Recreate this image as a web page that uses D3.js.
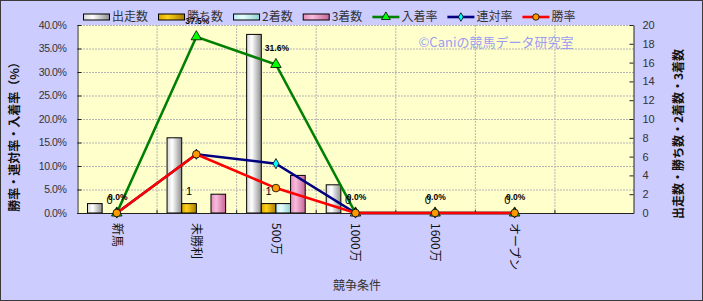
<!DOCTYPE html>
<html>
<head>
<meta charset="utf-8">
<script src="https://cdn.jsdelivr.net/npm/d3@7"></script>
<style>
  body { margin: 0; background: #fff; }
  svg { display: block; font-family: "Noto Sans CJK JP", "Liberation Sans", sans-serif; }
</style>
</head>
<body>
<div id="chart"></div>
<script>
// 競争条件別の成績（棒=頭数, 折れ線=率）

const categories = ["新馬", "未勝利", "500万", "1000万", "1600万", "オープン", ""];
const starts = [1, 8, 19, 3, 0, 0];       // 出走数
const wins = [0, 1, 1, 0, 0, 0];          // 勝ち数
const seconds = [0, 0, 1, 0, 0, 0];       // 2着数
const thirds = [0, 2, 4, 0, 0, 0];        // 3着数
const placeRate = [0, 37.5, 31.6, 0, 0, 0];   // 入着率 (%)
const quinellaRate = [0, 12.5, 10.5, 0, 0, 0]; // 連対率 (%)
const winRate = [0, 12.5, 5.3, 0, 0, 0];      // 勝率 (%)
const leftTicks = [0, 5, 10, 15, 20, 25, 30, 35, 40];
const rightTicks = [0, 2, 4, 6, 8, 10, 12, 14, 16, 18, 20];

const W = 703, H = 301;
const plot = { left: 77, right: 634, top: 25, bottom: 213 };

const svg = d3.select("#chart").append("svg")
    .attr("width", W).attr("height", H);

// background + border
svg.append("rect")
    .attr("x", 0.5).attr("y", 0.5)
    .attr("width", W - 1).attr("height", H - 1)
    .attr("fill", "#ccccff")
    .attr("stroke", "#3a3a3a");

svg.append("rect")
    .attr("x", plot.left).attr("y", plot.top)
    .attr("width", plot.right - plot.left).attr("height", plot.bottom - plot.top)
    .attr("fill", "#ffffcc");

// gradients for the cylinder look
const defs = svg.append("defs");
const barStyles = [
    { name: "出走数", id: "gWhite", stops: ["#d6d6d6", "#ffffff", "#8e8e8e"] },
    { name: "勝ち数", id: "gGold", stops: ["#d9a400", "#ffd21a", "#a87c00"] },
    { name: "2着数", id: "gCyan", stops: ["#b8eeee", "#e8ffff", "#8fd0d0"] },
    { name: "3着数", id: "gPink", stops: ["#e48cbc", "#f8bcdc", "#c76497"] }
];
barStyles.forEach(s => {
    const g = defs.append("linearGradient").attr("id", s.id)
        .attr("x1", 0).attr("x2", 1).attr("y1", 0).attr("y2", 0);
    g.append("stop").attr("offset", "0%").attr("stop-color", s.stops[0]);
    g.append("stop").attr("offset", "35%").attr("stop-color", s.stops[1]);
    g.append("stop").attr("offset", "100%").attr("stop-color", s.stops[2]);
});

// scales
const x = d3.scaleBand().domain(d3.range(categories.length))
    .range([plot.left, plot.right]).padding(0);
const bw = x.bandwidth();
const xInner = d3.scaleBand().domain(d3.range(4))
    .range([10.5, bw - 10.5]).padding(0);
const yLeft = d3.scaleLinear().domain([0, 40]).range([plot.bottom, plot.top]);
const yRight = d3.scaleLinear().domain([0, 20]).range([plot.bottom, plot.top]);
const cx = i => x(i) + bw / 2;

// gridlines
const grid = svg.append("g").attr("stroke", "#b4b4b4").attr("stroke-dasharray", "2,1");
grid.selectAll("line.h").data(leftTicks.slice(1)).join("line")
    .attr("x1", plot.left).attr("x2", plot.right)
    .attr("y1", d => yLeft(d) + 0.5).attr("y2", d => yLeft(d) + 0.5);
grid.selectAll("line.v").data(d3.range(1, categories.length)).join("line")
    .attr("x1", d => x(d) + 0.5).attr("x2", d => x(d) + 0.5)
    .attr("y1", plot.top).attr("y2", plot.bottom);

// watermark
svg.append("text")
    .attr("x", 496).attr("y", 47)
    .attr("text-anchor", "middle")
    .attr("font-size", 13)
    .attr("fill", "#9c9cf2")
    .text("©Caniの競馬データ研究室");

// bars
const barSeries = [starts, wins, seconds, thirds];
const barData = [];
barSeries.forEach((arr, s) => arr.forEach((v, i) => barData.push({ s, i, v })));

svg.append("g").selectAll("rect")
    .data(barData.filter(d => d.v > 0))
    .join("rect")
    .attr("x", d => x(d.i) + xInner(d.s))
    .attr("y", d => yRight(d.v))
    .attr("width", xInner.bandwidth())
    .attr("height", d => yRight(0) - yRight(d.v))
    .attr("fill", d => `url(#${barStyles[d.s].id})`)
    .attr("stroke", "#000")
    .attr("stroke-width", 1);

// axes
const axisLeft = d3.axisLeft(yLeft).tickValues(leftTicks)
    .tickSizeInner(-4).tickSizeOuter(0).tickPadding(11)
    .tickFormat(d => d.toFixed(1) + "%");
const gl = svg.append("g").attr("transform", `translate(${plot.left + 0.5},0)`).call(axisLeft);
gl.select(".domain").attr("stroke", "#222");
gl.selectAll(".tick line").attr("stroke", "#222");
gl.selectAll(".tick text")
    .attr("font-family", "Liberation Sans, sans-serif")
    .attr("font-size", 10.5).attr("letter-spacing", -0.4).attr("fill", "#333");

const axisRight = d3.axisRight(yRight).tickValues(rightTicks)
    .tickSizeInner(-4).tickSizeOuter(0).tickPadding(9);
const gr = svg.append("g").attr("transform", `translate(${plot.right - 0.5},0)`).call(axisRight);
gr.select(".domain").attr("stroke", "#222");
gr.selectAll(".tick line").attr("stroke", "#222");
gr.selectAll(".tick text")
    .attr("font-family", "Liberation Sans, sans-serif")
    .attr("font-size", 11).attr("fill", "#333");

// bottom axis line + boundary ticks
svg.append("line")
    .attr("x1", plot.left).attr("x2", plot.right)
    .attr("y1", plot.bottom + 0.5).attr("y2", plot.bottom + 0.5)
    .attr("stroke", "#222");
svg.append("g").selectAll("line").data(d3.range(1, categories.length)).join("line")
    .attr("x1", d => x(d) + 0.5).attr("x2", d => x(d) + 0.5)
    .attr("y1", plot.bottom - 3).attr("y2", plot.bottom + 0.5)
    .attr("stroke", "#222");

// category labels (rotated)
svg.append("g").selectAll("text").data(categories).join("text")
    .attr("transform", (d, i) => `translate(${cx(i)},${plot.bottom + 10}) rotate(90)`)
    .attr("dy", "0.35em")
    .attr("font-size", 12)
    .attr("fill", "#111")
    .text(d => d);

// lines
const lineSeries = [
    { name: "入着率", values: placeRate, color: "#008000", fill: "#00ff00", symbol: d3.symbolTriangle, size: 48 },
    { name: "連対率", values: quinellaRate, color: "#000080", fill: "#00ffff", symbol: d3.symbolDiamond, size: 30 },
    { name: "勝率", values: winRate, color: "#ff0000", fill: "#ff9900", symbol: d3.symbolCircle, size: 46 }
];
const line = d3.line().x((d, i) => cx(i)).y(d => yLeft(d));

lineSeries.forEach(s => {
    const g = svg.append("g");
    g.append("path")
        .attr("d", line(s.values))
        .attr("fill", "none")
        .attr("stroke", s.color)
        .attr("stroke-width", 2.6);
    g.selectAll("path.m").data(s.values).join("path")
        .attr("class", "m")
        .attr("transform", (d, i) => `translate(${cx(i)},${yLeft(d)})`)
        .attr("d", d3.symbol().type(s.symbol).size(s.size))
        .attr("fill", s.fill)
        .attr("stroke", "#000")
        .attr("stroke-width", 0.8);
});

// data labels: 勝ち数 above its bar, 入着率 above its point
svg.append("g").selectAll("text").data(wins).join("text")
    .attr("x", (d, i) => x(i) + xInner(1) + xInner.bandwidth() / 2)
    .attr("y", d => yRight(d) - 9)
    .attr("text-anchor", "middle")
    .attr("font-family", "Liberation Sans, sans-serif")
    .attr("font-size", 11)
    .attr("fill", "#000")
    .text(d => d);

svg.append("g").selectAll("text").data(placeRate).join("text")
    .attr("x", (d, i) => cx(i) + 1)
    .attr("y", d => yLeft(d) - 13)
    .attr("text-anchor", "middle")
    .attr("font-family", "Liberation Sans, sans-serif")
    .attr("font-weight", "bold")
    .attr("font-size", 8.5)
    .attr("fill", "#000")
    .text(d => d.toFixed(1) + "%");

// axis titles
svg.append("text")
    .attr("transform", `translate(15,${(plot.top + plot.bottom) / 2 + 15}) rotate(-90)`)
    .attr("text-anchor", "middle").attr("dy", "0.35em")
    .attr("font-size", 12).attr("font-weight", "bold").attr("fill", "#111")
    .text("勝率・連対率・入着率（%）");
svg.append("text")
    .attr("transform", `translate(679,${(plot.top + plot.bottom) / 2 + 15}) rotate(-90)`)
    .attr("text-anchor", "middle").attr("dy", "0.35em")
    .attr("font-size", 12).attr("font-weight", "bold").attr("fill", "#111")
    .text("出走数・勝ち数・2着数・3着数");
svg.append("text")
    .attr("x", 357).attr("y", 290)
    .attr("text-anchor", "middle")
    .attr("font-size", 12).attr("fill", "#333")
    .text("競争条件");

// legend
const legend = svg.append("g").attr("transform", "translate(83,17)");
let lx = 0;
const legendItems = barStyles.map(b => ({ type: "bar", ...b }))
    .concat(lineSeries.map(l => ({ type: "line", ...l })));
legendItems.forEach(it => {
    const g = legend.append("g").attr("transform", `translate(${lx},0)`);
    if (it.type === "bar") {
        g.append("rect")
            .attr("x", 0.5).attr("y", -3).attr("width", 26).attr("height", 6)
            .attr("fill", `url(#${it.id})`).attr("stroke", "#000");
    } else {
        g.append("line").attr("x1", 0).attr("x2", 27).attr("y1", 0).attr("y2", 0)
            .attr("stroke", it.color).attr("stroke-width", 2.6);
        g.append("path").attr("transform", "translate(13.5,0)")
            .attr("d", d3.symbol().type(it.symbol).size(it.size * 0.7))
            .attr("fill", it.fill).attr("stroke", "#000").attr("stroke-width", 0.8);
    }
    const t = g.append("text")
        .attr("x", 29).attr("dy", "0.35em")
        .attr("font-size", 12).attr("fill", "#333")
        .text(it.name);
    lx += 29 + t.node().getComputedTextLength() + 10;
});
</script>
</body>
</html>
